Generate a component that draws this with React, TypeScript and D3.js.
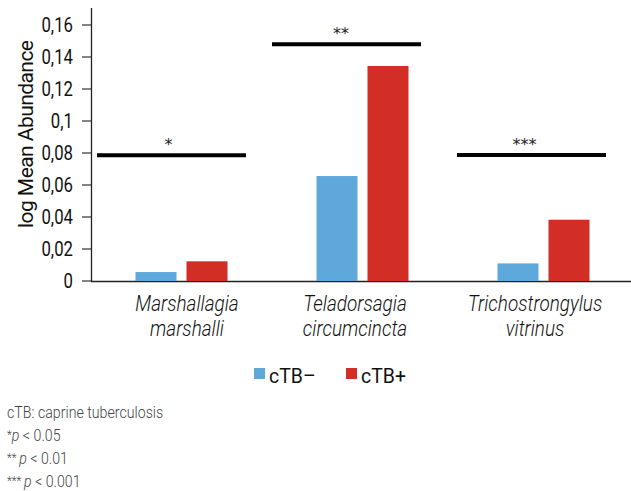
import React, { useEffect, useRef } from "react"
import * as d3 from "d3"

const categories = [["Marshallagia", "marshalli"], ["Teladorsagia", "circumcincta"], ["Trichostrongylus", "vitrinus"]]
const seriesNames = ["cTB–", "cTB+"]
const cTBneg = [0.0056, 0.0656, 0.011]
const cTBpos = [0.0123, 0.1344, 0.0383]
const sigLevel = [0.0786, 0.148, 0.0788]
const sigStars = ["*", "**", "***"]
const yTicks = [0, 0.02, 0.04, 0.06, 0.08, 0.1, 0.12, 0.14, 0.16]
const notes = ["cTB: caprine tuberculosis", "*", "**", "***"]
const pvals = ["< 0.05", "< 0.01", "< 0.001"]

const colors = ["#5fa8dc", "#d22e26"]
const font = "Roboto, 'Liberation Sans', sans-serif"

type Sel = d3.Selection<any, unknown, null, undefined>

// squeezed text, the original uses a condensed face
function label(parent: Sel, x: number, y: number, txt: string, size: number, sx: number, anchor = "start") {
  return parent.append("text")
    .attr("transform", `translate(${x},${y}) scale(${sx},1)`)
    .attr("text-anchor", anchor)
    .attr("font-family", font)
    .attr("font-size", size)
    .attr("fill", "#111")
    .text(txt)
}

export default function App() {
  const ref = useRef<SVGSVGElement>(null)

  useEffect(() => {
    const svg: Sel = d3.select(ref.current)
    svg.selectAll("*").remove()

    const x = d3.scaleBand<number>().domain([0, 1, 2]).range([91, 634])
    const y = d3.scaleLinear().domain([0, 0.16]).range([281, 25])

    const barW = 41
    const gap = 10

    // y axis
    yTicks.forEach(t => {
      svg.append("line")
        .attr("x1", 82).attr("x2", 91).attr("y1", y(t)).attr("y2", y(t))
        .attr("stroke", "#333").attr("stroke-width", 1.2)
      label(svg, 73, y(t) + 7, String(t).replace(".", ","), 19.5, 0.86, "end")
    })
    svg.append("line")
      .attr("x1", 91.5).attr("x2", 91.5).attr("y1", 8).attr("y2", 282)
      .attr("stroke", "#222").attr("stroke-width", 1.3)
    svg.append("line")
      .attr("x1", 91).attr("x2", 631).attr("y1", 281.5).attr("y2", 281.5)
      .attr("stroke", "#222").attr("stroke-width", 1.3)

    svg.append("text")
      .attr("transform", `translate(33,134) rotate(-90)`)
      .attr("text-anchor", "middle")
      .attr("font-family", font).attr("font-size", 21).attr("fill", "#111")
      .attr("textLength", 188).attr("lengthAdjust", "spacing")
      .text("log Mean  Abundance")

    // bars
    const g = svg.append("g")
    const series = [cTBneg, cTBpos]
    series.forEach((vals, s) => {
      g.selectAll(null).data(vals).enter().append("rect")
        .attr("x", (d, i) => x(i)! + x.bandwidth() / 2 - barW - gap / 2 + s * (barW + gap))
        .attr("y", d => y(d))
        .attr("width", barW)
        .attr("height", d => y(0) - y(d))
        .attr("fill", colors[s])
    })

    // significance lines
    const sigOffset = [-10, -16, -12]
    const starOffset = [-3, -5.5, -7]
    const lineW = 149
    sigLevel.forEach((v, i) => {
      const cx = x(i)! + x.bandwidth() / 2 + sigOffset[i]
      svg.append("line")
        .attr("x1", cx - lineW / 2).attr("x2", cx + lineW / 2)
        .attr("y1", y(v)).attr("y2", y(v))
        .attr("stroke", "#000").attr("stroke-width", 4)
      svg.append("text")
        .attr("x", cx + starOffset[i]).attr("y", y(v) - 5)
        .attr("text-anchor", "middle")
        .attr("font-family", "'DejaVu Sans', sans-serif").attr("font-size", 16).attr("fill", "#222")
        .text(sigStars[i])
    })

    // category labels
    const labelX = [187, 355, 535]
    categories.forEach((c, i) => {
      label(svg, labelX[i], 311, c[0], 21.5, 0.88, "middle").attr("font-style", "italic").attr("font-weight", 300)
      label(svg, labelX[i], 336, c[1], 21.5, 0.88, "middle").attr("font-style", "italic").attr("font-weight", 300)
    })

    // legend
    const legX = [254, 346]
    seriesNames.forEach((n, i) => {
      svg.append("rect")
        .attr("x", legX[i]).attr("y", 368).attr("width", 11).attr("height", 11)
        .attr("fill", colors[i])
      label(svg, legX[i] + 15, 383, n, 20.5, 0.95)
    })

    // footnotes
    label(svg, 7, 418, notes[0], 16.5, 0.86).attr("fill", "#444").attr("font-weight", 300)
    pvals.forEach((p, i) => {
      const t = label(svg, 7, 441 + i * 23, "", 16.5, 0.86).attr("fill", "#444").attr("font-weight", 300)
      t.append("tspan").attr("font-size", 13).attr("dy", -2).text(notes[i + 1] + (i > 0 ? " " : ""))
      t.append("tspan").attr("dy", 2).attr("font-style", "italic").text("p")
      t.append("tspan").text(" " + p)
    })
  }, [])

  return <svg ref={ref} width={631} height={491} style={{ display: "block", position: "absolute", left: 0, top: 0 }} />
}
